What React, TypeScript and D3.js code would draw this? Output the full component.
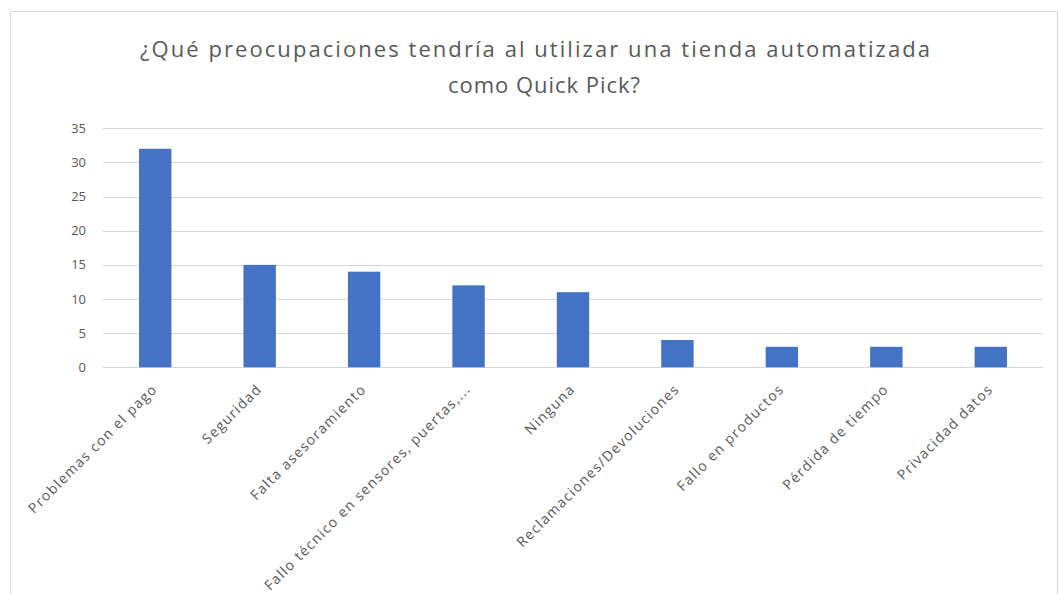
import React from "react";
import * as d3 from "d3";

const categories = [
  "Problemas con el pago",
  "Seguridad",
  "Falta asesoramiento",
  "Fallo técnico en sensores, puertas,...",
  "Ninguna",
  "Reclamaciones/Devoluciones",
  "Fallo en productos",
  "Pérdida de tiempo",
  "Privacidad datos",
];
const values = [32, 15, 14, 12, 11, 4, 3, 3, 3];
const yTicks = [0, 5, 10, 15, 20, 25, 30, 35];
const titleLines = [
  "¿Qué preocupaciones tendría al utilizar una tienda automatizada",
  "como Quick Pick?",
];
const titleWidths = [790, 192];
const titleCenters = [535, 544];

const W = 1059;
const H = 594;
const FONT = "'Open Sans', 'DejaVu Sans', sans-serif";

export default function App() {
  const x = d3
    .scaleBand<string>()
    .domain(categories)
    .range([103, 1043])
    .paddingInner(0.69)
    .paddingOuter(0.345);
  const y = d3.scaleLinear().domain([0, 35]).range([367.3, 128.3]);
  const grid = "#d9d9d9";
  const textColor = "#595959";

  return (
    <svg
      width={W}
      height={H}
      style={{ position: "absolute", left: 0, top: 0, background: "#fff" }}
      fontFamily={FONT}
    >
      <rect x={0} y={0} width={W} height={H} fill="#fff" />
      <rect
        x={10.5}
        y={11.5}
        width={1047}
        height={620}
        fill="#fff"
        stroke={grid}
        strokeWidth={1}
      />
      {titleLines.map((t, i) => (
        <text
          key={i}
          x={titleCenters[i]}
          y={57 + i * 36}
          textAnchor="middle"
          fontSize={22}
          textLength={titleWidths[i]}
          lengthAdjust="spacing"
          fill={textColor}
        >
          {t}
        </text>
      ))}
      {yTicks.map((t) => (
        <g key={t}>
          <line
            x1={103}
            x2={1043}
            y1={Math.round(y(t)) + 0.5}
            y2={Math.round(y(t)) + 0.5}
            stroke={grid}
            strokeWidth={1}
          />
          <text
            x={86}
            y={y(t)}
            dy="0.35em"
            textAnchor="end"
            fontSize={13}
            fill={textColor}
          >
            {t}
          </text>
        </g>
      ))}
      {categories.map((c, i) => (
        <rect
          key={c}
          x={x(c)}
          y={y(values[i])}
          width={x.bandwidth()}
          height={y(0) - y(values[i])}
          fill="#4472C4"
        />
      ))}
      {categories.map((c) => {
        const cx = (x(c) as number) + x.bandwidth() / 2 + 3;
        const cy = 390;
        return (
          <text
            key={"l" + c}
            transform={`translate(${cx},${cy}) rotate(-45)`}
            textAnchor="end"
            fontSize={14}
            letterSpacing={1.3}
            fill={textColor}
          >
            {c}
          </text>
        );
      })}
    </svg>
  );
}
